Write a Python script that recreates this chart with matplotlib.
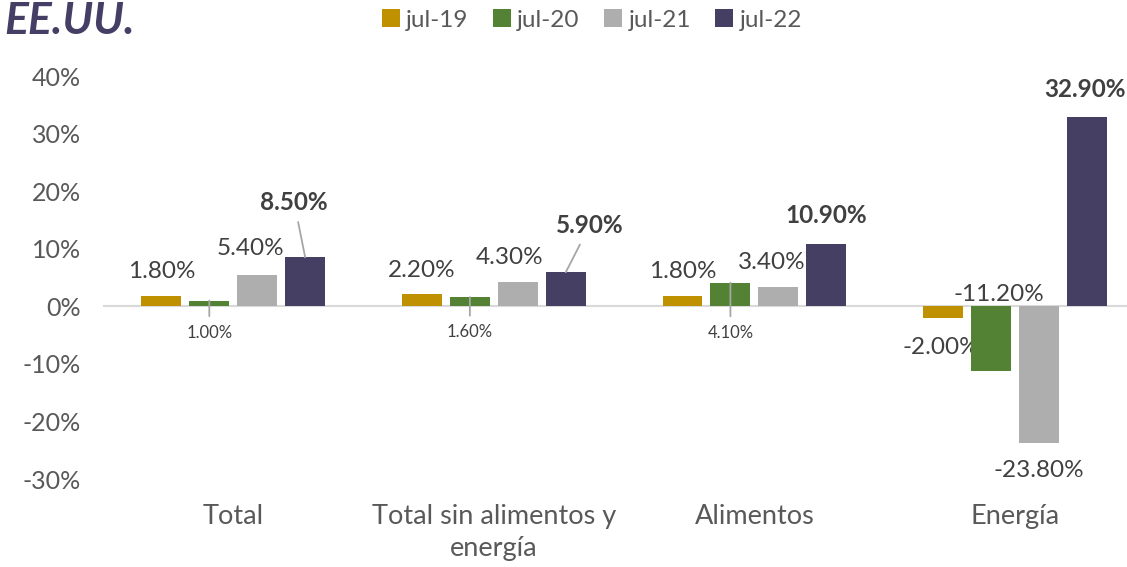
import numpy as np
import matplotlib
matplotlib.use("Agg")
import matplotlib.pyplot as plt

plt.rcParams['font.family'] = ['Lato', 'DejaVu Sans']

# data
categories = ["Total", "Total sin alimentos y\nenergía", "Alimentos", "Energía"]
series_names = ["jul-19", "jul-20", "jul-21", "jul-22"]
jul19 = [1.8, 2.2, 1.8, -2.0]
jul20 = [1.0, 1.6, 4.1, -11.2]
jul21 = [5.4, 4.3, 3.4, -23.8]
jul22 = [8.5, 5.9, 10.9, 32.9]
yticks = [-30, -20, -10, 0, 10, 20, 30, 40]

colors = ["#BF9000", "#548235", "#AEAEAF", "#443F63"]
series = [jul19, jul20, jul21, jul22]

# label offsets in pixels (dx, dy) from bar end, per series / category
offsets = [
    [(0, 24), (0, 23), (0, 24), (-2, -30)],
    [(0, -32), (0, -35), (0, -50), (8, 76)],
    [(-7, 27), (-8, 24), (-7, 24), (0, -27)],
    [(-11, 55), (24, 47), (0, 28), (-2, 27)],
]
leader = {(1, 0), (1, 1), (1, 2), (3, 0), (3, 1)}

fig = plt.figure(figsize=(11.27, 5.67), dpi=100)
ax = fig.add_axes([103 / 1127, 1 - 479 / 567, 1 - 103 / 1127, (479 - 76) / 567])

x = np.arange(len(categories))
step = 0.184
width = 0.153
for i, (vals, col) in enumerate(zip(series, colors)):
    pos = x + (i - 1.5) * step
    ax.bar(pos, vals, width, color=col, label=series_names[i], zorder=3)
    for j, (p, v) in enumerate(zip(pos, vals)):
        dx, dy = offsets[i][j]
        small = i == 1 and j < 3
        bold = i == 3
        kw = dict(textcoords="offset pixels", ha="center", va="center",
                  fontsize=12 if small else 17.5,
                  fontweight="bold" if bold else "normal", color="#404040")
        if (i, j) in leader:
            kw["arrowprops"] = dict(arrowstyle="-", color="#A6A6A6", lw=1.3,
                                    shrinkA=4, shrinkB=0)
        ax.annotate(f"{v:.2f}%", xy=(p, v), xytext=(dx, dy), **kw)

ax.set_ylim(-30, 40)
ax.set_xlim(-0.5, 3.43)
ax.set_yticks(yticks)
ax.set_yticklabels([f"{t}%" for t in yticks], fontsize=18, color="#595959")
ax.set_xticks(x)
ax.set_xticklabels(categories, fontsize=19.5, color="#595959", linespacing=1.35)
ax.tick_params(length=0, axis="both")
ax.tick_params(axis="y", pad=16)
ax.tick_params(axis="x", pad=18)
for s in ax.spines.values():
    s.set_visible(False)
ax.axhline(0, color="#D9D9D9", lw=1.5, zorder=2)

fig.text(0.004, 1 - 34 / 567, "EE.UU.", fontsize=32, fontweight="bold",
         fontstyle="italic", color="#453F66", va="baseline")

fig.legend(loc="center", bbox_to_anchor=(592 / 1127, 1 - 20 / 567), ncol=4,
           frameon=False, fontsize=17.5, handlelength=0.75, handleheight=0.75,
           handletextpad=0.25, columnspacing=1.0, labelcolor="#595959")

fig.savefig("out.png", dpi=100)
